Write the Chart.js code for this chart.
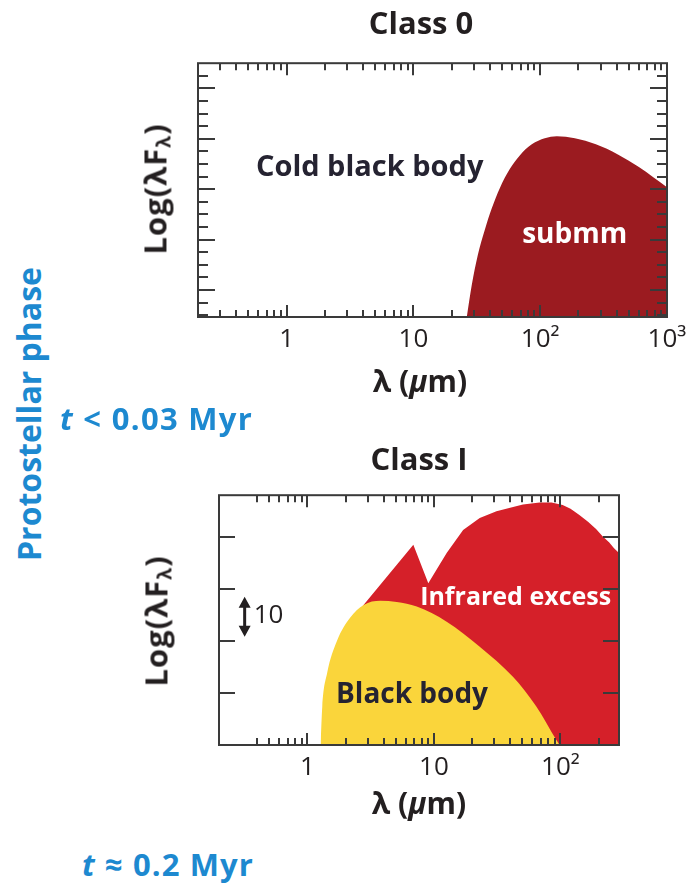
<!DOCTYPE html>
<html>
<head>
<meta charset="utf-8">
<script src="https://cdn.jsdelivr.net/npm/chart.js@4.4.1/dist/chart.umd.min.js"></script>
<style>
  body { margin: 0; background: #fff; width: 694px; height: 885px; overflow: hidden; position: relative; font-family: "Open Sans", "Noto Sans", sans-serif; }
  canvas { position: absolute; }
  #class0 { left: 148px; top: 0; }
  #class1 { left: 144px; top: 430px; }
  .lbl { position: absolute; white-space: nowrap; font-weight: bold; color: #231f20; transform: translate(-50%, -50%); line-height: 1; }
  .ytitle { transform: translate(-50%, -50%) rotate(-90deg); }
  .ytitle sub { font-size: 62%; vertical-align: -0.2em; }
  .blue { color: #1d89d0; transform: translate(0, -50%); }
</style>
</head>
<body>
<canvas id="class0" width="546" height="400"></canvas>
<canvas id="class1" width="550" height="400"></canvas>

<div class="lbl ytitle" style="left:156px; top:189px; font-size:31px; letter-spacing:1px">Log(λF<sub>λ</sub>)</div>
<div class="lbl" style="left:420px; top:381px; font-size:30px">λ (<i>μ</i>m)</div>
<div class="lbl ytitle" style="left:157px; top:621px; font-size:31px; letter-spacing:1px">Log(λF<sub>λ</sub>)</div>
<div class="lbl" style="left:419px; top:803px; font-size:30px">λ (<i>μ</i>m)</div>

<div class="lbl ytitle blue" style="left:29px; top:414px; font-size:32px; transform:translate(-50%,-50%) rotate(-90deg)">Protostellar phase</div>
<div class="lbl blue" style="left:60px; top:418px; font-size:31px; letter-spacing:1.3px"><i>t</i> &lt; 0.03 Myr</div>
<div class="lbl blue" style="left:82px; top:864px; font-size:31px; letter-spacing:1.1px"><i>t</i> ≈ 0.2 Myr</div>

<script>
// Class 0: cold black body (submm) SED, wavelength in micron, log flux in arbitrary units
const class0Wavelength = [26.35, 28.85, 32.17, 36.53, 41.5, 47.99, 57.55, 69.02, 85.85, 108.7, 135.2, 187.6, 274.8, 409.8, 600.1, 1000];
const class0Flux = [-0.54, 0.10, 0.69, 1.19, 1.62, 2.02, 2.40, 2.67, 2.89, 3.01, 3.05, 3.01, 2.89, 2.69, 2.44, 2.04];

// Class I: stellar black body + infrared excess
const blackBodyWavelength = [1.27, 1.31, 1.43, 1.71, 2.18, 2.78, 3.76, 5.08, 7.31, 12.6, 23.0, 42.1, 64.4, 92.5, 98.2];
const blackBodyFlux = [0, 0.74, 1.38, 2.0, 2.45, 2.69, 2.77, 2.75, 2.66, 2.37, 1.89, 1.31, 0.74, 0.1, 0];

const excessWavelength = [2.3, 6.87, 9.02, 12.6, 17.0, 23.0, 31.2, 40, 50.5, 68.4, 85, 104, 120, 141, 165, 191, 215, 243, 265, 290];
const excessFlux = [2.45, 3.85, 3.11, 3.69, 4.13, 4.36, 4.49, 4.56, 4.62, 4.66, 4.66, 4.61, 4.54, 4.42, 4.29, 4.15, 4.01, 3.89, 3.78, 3.69];

// tick marks and labels
const tickLabels = { 1: '1', 10: '10', 100: '10²', 1000: '10³' };
const class0MajorX = [1, 10, 100, 1000];
const class0MinorX = [0.3, 0.4, 0.5, 0.6, 0.7, 0.8, 0.9, 2, 3, 4, 5, 6, 7, 8, 9, 20, 30, 40, 50, 60, 70, 80, 90, 200, 300, 400, 500, 600, 700, 800, 900];
const class0MajorY = [0, 1, 2, 3, 4];
const class0MinorY = [-0.5, -0.25, 0.25, 0.5, 0.75, 1.25, 1.5, 1.75, 2.25, 2.5, 2.75, 3.25, 3.5, 3.75, 4.25];
const class1MajorX = [1, 10, 100];
const class1MinorX = [0.4, 0.5, 0.6, 0.7, 0.8, 0.9, 2, 3, 4, 5, 6, 7, 8, 9, 20, 30, 40, 50, 60, 70, 80, 90, 200];
const class1MajorY = [1, 2, 3, 4];

const INK = '#231f20';
const TEXT = '#252331';
const FONT = '"Open Sans"';

const pts = (xs, ys) => xs.map((x, i) => ({ x, y: ys[i] }));

// box + inward ticks on every side
const framePlugin = {
  id: 'frame',
  afterDatasetsDraw(chart, args, o) {
    const { ctx, chartArea: a, scales: { x, y } } = chart;
    ctx.save();
    ctx.strokeStyle = '#3a3a3a';
    ctx.lineWidth = 2;
    ctx.beginPath();
    const xt = (list, len) => list.forEach(v => {
      const p = Math.round(x.getPixelForValue(v));
      ctx.moveTo(p, a.bottom); ctx.lineTo(p, a.bottom - len);
      ctx.moveTo(p, a.top); ctx.lineTo(p, a.top + len);
    });
    const yt = (list, len) => list.forEach(v => {
      const p = Math.round(y.getPixelForValue(v));
      ctx.moveTo(a.left, p); ctx.lineTo(a.left + len, p);
      ctx.moveTo(a.right, p); ctx.lineTo(a.right - len, p);
    });
    xt(o.majorX || [], 12);
    xt(o.minorX || [], 7);
    yt(o.majorY || [], o.majorYLen || 17);
    yt(o.minorY || [], 10);
    ctx.stroke();
    ctx.strokeRect(a.left, a.top, a.right - a.left, a.bottom - a.top);
    ctx.restore();
  }
};

// text and arrow annotations placed in data coordinates
const notesPlugin = {
  id: 'notes',
  afterDraw(chart, args, o) {
    const { ctx, scales: { x, y } } = chart;
    ctx.save();
    (o.items || []).forEach(n => {
      const px = x.getPixelForValue(n.x);
      if (n.arrow) {
        const y0 = y.getPixelForValue(n.y0), y1 = y.getPixelForValue(n.y1);
        ctx.strokeStyle = INK; ctx.fillStyle = INK; ctx.lineWidth = 3;
        ctx.beginPath(); ctx.moveTo(px, y0 + 8); ctx.lineTo(px, y1 - 8); ctx.stroke();
        ctx.beginPath();
        ctx.moveTo(px, y0); ctx.lineTo(px - 6, y0 + 11); ctx.lineTo(px + 6, y0 + 11); ctx.closePath();
        ctx.moveTo(px, y1); ctx.lineTo(px - 6, y1 - 11); ctx.lineTo(px + 6, y1 - 11); ctx.closePath();
        ctx.fill();
        return;
      }
      ctx.font = n.font;
      ctx.fillStyle = n.color;
      ctx.textAlign = 'center';
      ctx.textBaseline = 'middle';
      ctx.fillText(n.text, px, y.getPixelForValue(n.y));
    });
    ctx.restore();
  }
};

function makeChart(id, cfg) {
  return new Chart(document.getElementById(id), {
    type: 'line',
    data: { datasets: cfg.datasets },
    plugins: [framePlugin, notesPlugin],
    options: {
      responsive: false,
      animation: false,
      layout: { padding: 0 },
      elements: { point: { radius: 0 }, line: { borderWidth: 0 } },
      plugins: {
        legend: { display: false },
        tooltip: { enabled: false },
        title: {
          display: true,
          text: cfg.title,
          color: INK,
          font: { family: FONT, size: 31, weight: 'bold', lineHeight: 1.2 },
          padding: cfg.titlePadding
        },
        frame: cfg.frame,
        notes: { items: cfg.notes }
      },
      scales: {
        x: {
          type: 'logarithmic',
          min: cfg.xMin,
          max: cfg.xMax,
          grid: { display: false, drawTicks: false },
          border: { display: false },
          ticks: {
            autoSkip: false,
            maxRotation: 0,
            padding: 7,
            color: INK,
            font: { family: FONT, size: 26 },
            callback: v => tickLabels[v] ?? ''
          },
          afterBuildTicks: s => { s.ticks = cfg.frame.majorX.map(v => ({ value: v })); },
          afterFit: s => { s.height = cfg.bottom; s.paddingLeft = 0; s.paddingRight = 0; }
        },
        y: {
          min: cfg.yMin,
          max: cfg.yMax,
          grid: { display: false },
          border: { display: false },
          ticks: { display: false },
          afterFit: s => { s.width = cfg.left; }
        },
        y2: {
          position: 'right',
          grid: { display: false },
          border: { display: false },
          ticks: { display: false },
          afterFit: s => { s.width = cfg.right; }
        }
      }
    }
  });
}

makeChart('class0', {
  title: 'Class 0',
  titlePadding: { top: 7, bottom: 19 },
  xMin: 0.2, xMax: 1000, yMin: -0.535, yMax: 4.5,
  left: 50, right: 27, bottom: 83,
  datasets: [{
    data: pts(class0Wavelength, class0Flux),
    backgroundColor: '#9b1b20',
    fill: 'start',
    cubicInterpolationMode: 'monotone'
  }],
  frame: { majorX: class0MajorX, minorX: class0MinorX, majorY: class0MajorY, minorY: class0MinorY },
  notes: [
    { text: 'Cold black body', x: 4.52, y: 2.42, color: TEXT, font: 'bold 29px ' + FONT },
    { text: 'submm', x: 187, y: 1.09, color: '#ffffff', font: 'bold 28px ' + FONT }
  ]
});

makeChart('class1', {
  title: 'Class I',
  titlePadding: { top: 13, bottom: 15 },
  xMin: 0.2, xMax: 290, yMin: 0, yMax: 4.8,
  left: 75, right: 75, bottom: 85,
  datasets: [{
    data: pts(blackBodyWavelength, blackBodyFlux),
    backgroundColor: '#fad53b',
    fill: 'origin',
    cubicInterpolationMode: 'monotone'
  }, {
    data: pts(excessWavelength, excessFlux),
    backgroundColor: '#d52029',
    fill: 'origin',
    tension: 0
  }],
  frame: { majorX: class1MajorX, minorX: class1MinorX, majorY: class1MajorY, minorY: [], majorYLen: 16 },
  notes: [
    { text: 'Infrared excess', x: 44.2, y: 2.83, color: '#ffffff', font: 'bold 25px ' + FONT },
    { text: 'Black body', x: 6.71, y: 0.96, color: TEXT, font: 'bold 28px ' + FONT },
    { text: '10', x: 0.493, y: 2.48, color: INK, font: '26px ' + FONT },
    { arrow: true, x: 0.319, y0: 2.85, y1: 2.08 }
  ]
});
</script>
</body>
</html>
